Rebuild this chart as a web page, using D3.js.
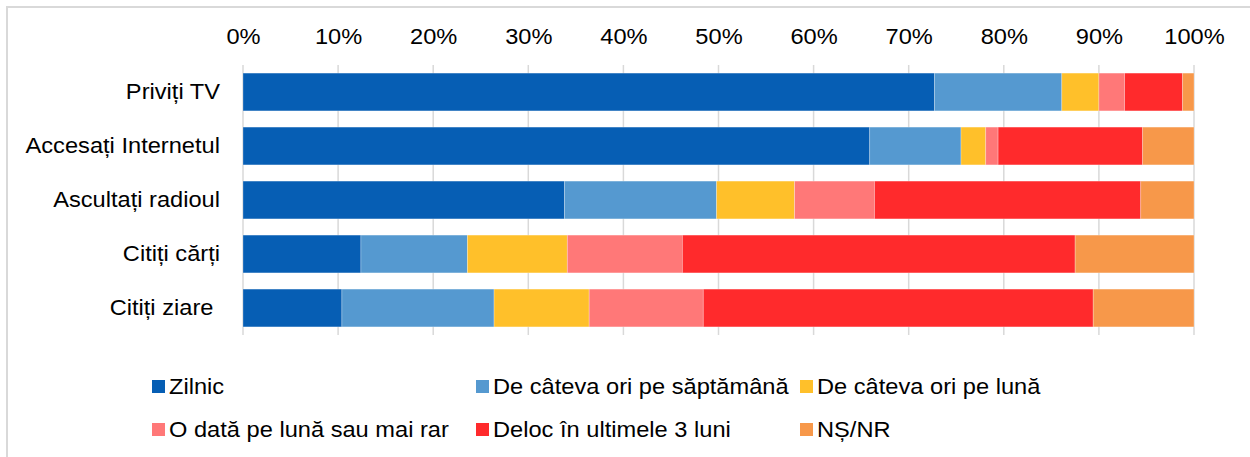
<!DOCTYPE html>
<html>
<head>
<meta charset="utf-8">
<script src="https://cdn.jsdelivr.net/npm/d3@7"></script>
<style>
  body { margin: 0; background: #fff; }
  text { font-family: "Liberation Sans", Arial, sans-serif; fill: #000; }
</style>
</head>
<body>
<div id="chart-container"></div>
<script>
// Data (percent of respondents)
const categories = ["Priviți TV", "Accesați Internetul", "Ascultați radioul", "Citiți cărți", "Citiți ziare "];
const seriesNames = ["Zilnic", "De câteva ori pe săptămână", "De câteva ori pe lună",
  "O dată pe lună sau mai rar", "Deloc în ultimele 3 luni", "NȘ/NR"];
const zilnic      = [72.7, 65.9, 33.8, 12.4, 10.4];
const saptamana   = [13.4,  9.6, 16.0, 11.2, 16.0];
const luna        = [ 3.9,  2.6,  8.2, 10.5, 10.0];
const maiRar      = [ 2.7,  1.3,  8.4, 12.1, 12.0];
const deloc       = [ 6.1, 15.2, 28.0, 41.3, 41.0];
const nsnr        = [ 1.2,  5.4,  5.6, 12.5, 10.6];
const tickValues  = [0, 10, 20, 30, 40, 50, 60, 70, 80, 90, 100];
const colors = ["#065EB4", "#5599D0", "#FFC02A", "#FF7878", "#FF2A2C", "#F7984A"];

const W = 1250, H = 457;
const margin = { top: 65, left: 243, right: 56, bottom: 122 };
const fontSize = "22px";
const stretch = "scale(1.075,1)"; // reference text is slightly wide

const svg = d3.select("#chart-container")
  .append("svg")
  .attr("width", W)
  .attr("height", H);

// chart frame (only left/top edges show in the picture)
svg.append("path")
  .attr("d", `M7,${H} L7,7 L${W},7`)
  .attr("fill", "none")
  .attr("stroke", "#d9d9d9")
  .attr("stroke-width", 2);

const xScale = d3.scaleLinear().domain([0, 100]).range([margin.left, W - margin.right]);
const yScale = d3.scaleBand().domain(categories)
  .range([margin.top, H - margin.bottom])
  .paddingInner(0.3).paddingOuter(0.15);

// build stacked rows
const table = categories.map((c, i) => ({
  cat: c,
  s0: zilnic[i], s1: saptamana[i], s2: luna[i], s3: maiRar[i], s4: deloc[i], s5: nsnr[i]
}));
const keys = ["s0", "s1", "s2", "s3", "s4", "s5"];
const stacked = d3.stack().keys(keys)(table);

// gridlines
svg.append("g")
  .selectAll("line")
  .data(tickValues)
  .join("line")
  .attr("x1", d => xScale(d))
  .attr("x2", d => xScale(d))
  .attr("y1", margin.top)
  .attr("y2", H - margin.bottom)
  .attr("stroke", "#d9d9d9")
  .attr("stroke-width", 1.5);

// top axis labels
svg.append("g")
  .attr("transform", `translate(0, ${margin.top - 21})`)
  .call(d3.axisTop(xScale).tickValues(tickValues).tickFormat(d => d + "%").tickSize(0).tickPadding(0))
  .call(g => g.select(".domain").remove())
  .selectAll(".tick text")
  .attr("transform", stretch)
  .style("font-size", fontSize)
  .style("font-family", "Liberation Sans, Arial, sans-serif")
  .attr("fill", "#000");

// bars
svg.append("g")
  .selectAll("g")
  .data(stacked)
  .join("g")
  .attr("fill", (d, i) => colors[i])
  .selectAll("rect")
  .data(d => d)
  .join("rect")
  .attr("x", d => xScale(d[0]))
  .attr("width", d => xScale(d[1]) - xScale(d[0]))
  .attr("y", d => yScale(d.data.cat))
  .attr("height", yScale.bandwidth())
  .attr("stroke", "#fff")
  .attr("stroke-opacity", 0.35)
  .attr("stroke-width", 0.75);

// category labels
svg.append("g")
  .attr("transform", `translate(${margin.left - 23}, 0)`)
  .call(d3.axisLeft(yScale).tickSize(0).tickPadding(0))
  .call(g => g.select(".domain").remove())
  .selectAll(".tick text")
  .attr("transform", stretch)
  .style("font-size", fontSize)
  .style("font-family", "Liberation Sans, Arial, sans-serif")
  .style("white-space", "pre")
  .attr("fill", "#000");

// legend
const legendPos = [[152, 386.5], [476, 386.5], [800, 386.5], [152, 429.5], [476, 429.5], [800, 429.5]];
const legend = svg.append("g")
  .selectAll("g")
  .data(seriesNames)
  .join("g")
  .attr("transform", (d, i) => `translate(${legendPos[i][0]}, ${legendPos[i][1]})`);

legend.append("rect")
  .attr("x", 0)
  .attr("y", -6.5)
  .attr("width", 13)
  .attr("height", 13)
  .attr("fill", (d, i) => colors[i]);

legend.append("text")
  .attr("transform", "translate(17,0) " + stretch)
  .attr("dy", "0.35em")
  .style("font-size", fontSize)
  .text(d => d);
</script>
</body>
</html>
